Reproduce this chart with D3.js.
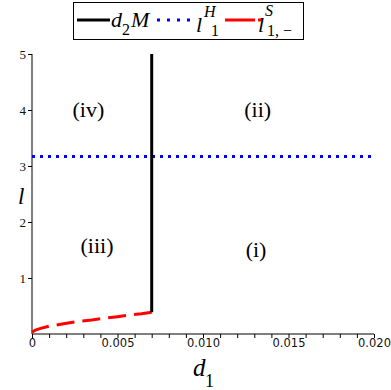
<!DOCTYPE html>
<html>
<head>
<meta charset="utf-8">
<script src="https://cdn.jsdelivr.net/npm/d3@7"></script>
<style>
  body { margin:0; background:#fff; }
</style>
</head>
<body>
<svg id="chart" width="391" height="390"></svg>
<script>
// data
const xTicks = [0, 0.005, 0.010, 0.015, 0.020];
const xTickLabels = ['0', '0.005', '0.010', '0.015', '0.020'];
const yTicks = [1, 2, 3, 4, 5];

// l^S_{1,-} (red dash-dot), d1 vs l
const redD = [0, 0.0002, 0.0005, 0.001, 0.0016, 0.0022, 0.0028, 0.0035, 0.0042, 0.005, 0.0057, 0.0064, 0.007];
const redL = [0.03, 0.07, 0.10, 0.14, 0.17, 0.20, 0.23, 0.25, 0.28, 0.31, 0.34, 0.36, 0.39];

// d2M (black vertical line)
const blackD = [0.007, 0.007];
const blackL = [0.39, 5];

// l^H_1 (blue dotted)
const blueD = [0, 0.020];
const blueL = [3.17, 3.17];

const regions = [
  {label:'(iv)', d:0.0033, l:3.875},
  {label:'(ii)', d:0.0132, l:3.875},
  {label:'(iii)', d:0.0038, l:1.45},
  {label:'(i)', d:0.0131, l:1.37}
];

const SERIF = '"Liberation Serif", "Times New Roman", serif';
const svg = d3.select('#chart');
const x = d3.scaleLinear().domain([0, 0.020]).range([32, 374]);
const y = d3.scaleLinear().domain([0, 5]).range([334, 54]);

// axes
const xAxis = svg.append('g').attr('transform', 'translate(0,334)')
  .call(d3.axisBottom(x).tickValues(d3.range(0, 21).map(i => i * 0.001)).tickSize(4)
    .tickFormat(d => { const i = xTicks.findIndex(t => Math.abs(t - d) < 1e-9); return i >= 0 ? xTickLabels[i] : ''; }));
xAxis.select('.domain').attr('stroke', '#000').attr('d', 'M32,0H374');
xAxis.selectAll('.tick line').attr('stroke', '#000');
xAxis.selectAll('.tick text').attr('dy', '0.6em').attr('y', 6)
  .style('font-family', '"DejaVu Sans", sans-serif').style('font-size', '11.5px').attr('fill', '#111');

const yAxis = svg.append('g').attr('transform', 'translate(32,0)')
  .call(d3.axisLeft(y).tickValues(yTicks).tickSize(4).tickFormat(d3.format('d')));
yAxis.select('.domain').attr('stroke', '#000').attr('d', 'M0,334V54');
yAxis.selectAll('.tick line').attr('stroke', '#000');
yAxis.selectAll('.tick text').attr('x', -6).style('font-family', SERIF).style('font-size', '13px').attr('fill', '#111');

const line = d3.line().x(d => x(d[0])).y(d => y(d[1]));

svg.append('path').datum(blueD.map((d, i) => [d, blueL[i]])).attr('d', line)
  .attr('fill', 'none').attr('stroke', '#0000ff').attr('stroke-width', 3).attr('stroke-dasharray', '3,5');

svg.append('path').datum(redD.map((d, i) => [d, redL[i]])).attr('d', line)
  .attr('fill', 'none').attr('stroke', '#ff0000').attr('stroke-width', 3).attr('stroke-dasharray', '18,8');

svg.append('path').datum(blackD.map((d, i) => [d, blackL[i]])).attr('d', line)
  .attr('fill', 'none').attr('stroke', '#000').attr('stroke-width', 3);

// region labels
svg.selectAll('text.region').data(regions).enter().append('text').attr('class', 'region')
  .attr('x', d => x(d.d)).attr('y', d => y(d.l))
  .attr('text-anchor', 'middle').style('font-family', SERIF).style('font-size', '22px').text(d => d.label);

function txt(g, xp, yp, size, italic, s) {
  return g.append('text').attr('x', xp).attr('y', yp).style('font-family', SERIF)
    .style('font-size', size + 'px').style('font-style', italic ? 'italic' : 'normal').text(s);
}

// axis titles
txt(svg, 193, 376, 25, true, 'd');
txt(svg, 205, 387, 18, false, '1');
txt(svg, 18, 204, 23, true, 'l');

// legend
const lg = svg.append('g');
lg.append('rect').attr('x', 73.5).attr('y', 2.5).attr('width', 230).attr('height', 37)
  .attr('fill', '#fff').attr('stroke', '#000').attr('stroke-width', 1);
lg.append('line').attr('x1', 77).attr('x2', 110).attr('y1', 20).attr('y2', 20)
  .attr('stroke', '#000').attr('stroke-width', 3);
txt(lg, 111, 27, 22, true, 'd');
txt(lg, 122, 35, 16, false, '2');
txt(lg, 131, 27, 22, true, 'M');
lg.append('line').attr('x1', 157).attr('x2', 192).attr('y1', 20).attr('y2', 20)
  .attr('stroke', '#0000ff').attr('stroke-width', 3).attr('stroke-dasharray', '3,7');
txt(lg, 196, 32, 22, true, 'l');
txt(lg, 204, 17, 16, true, 'H');
txt(lg, 211, 36, 16, false, '1');
lg.append('line').attr('x1', 225).attr('x2', 263).attr('y1', 20).attr('y2', 20)
  .attr('stroke', '#ff0000').attr('stroke-width', 3).attr('stroke-dasharray', '30,3,4,10');
txt(lg, 258, 32, 22, true, 'l');
txt(lg, 265, 16, 16, true, 'S');
txt(lg, 267, 36, 16, false, '1, \u2212');
</script>
</body>
</html>
